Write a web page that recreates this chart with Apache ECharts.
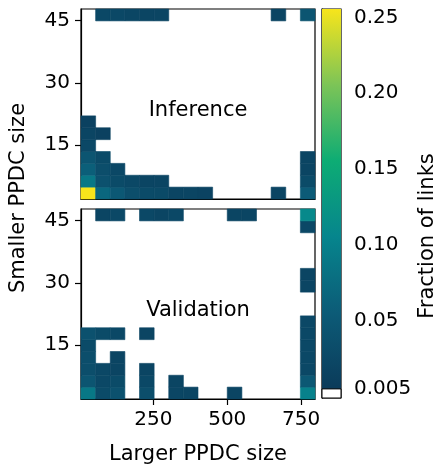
<!DOCTYPE html>
<html>
<head>
<meta charset="utf-8">
<script src="https://cdn.jsdelivr.net/npm/echarts@6/dist/echarts.min.js"></script>
<style>
  html, body { margin: 0; padding: 0; background: #fff; }
  #main { width: 443px; height: 470px; }
</style>
</head>
<body>
<div id="main"></div>
<script>
var dom = document.getElementById('main');
var myChart = echarts.init(dom);

// bins: 16 x 16 (larger size along x, smaller size along y)
var xMin = 5, xMax = 797;
var yMin = 2, yMax = 47.8;
var nBins = 16;
var xTicks = [250, 500, 750];
var yTicks = [15, 30, 45];
var cbarTicks = [0.005, 0.05, 0.10, 0.15, 0.20, 0.25];
var vMin = 0.005, vMax = 0.2555;
var cmap = ['#0b3b5a', '#0c5b77', '#06858d', '#0dac74', '#7cc457', '#f7e51b'];

// [column, row, fraction of links]
var inferenceCells = [
    [0, 0, 0.256], [1, 0, 0.07], [2, 0, 0.05], [3, 0, 0.035], [4, 0, 0.03], [5, 0, 0.028],
    [6, 0, 0.02], [7, 0, 0.02], [8, 0, 0.018], [13, 0, 0.02], [15, 0, 0.055],
    [0, 1, 0.09], [1, 1, 0.04], [2, 1, 0.03], [3, 1, 0.025], [4, 1, 0.02], [5, 1, 0.02], [15, 1, 0.03],
    [0, 2, 0.06], [1, 2, 0.035], [2, 2, 0.025], [15, 2, 0.02],
    [0, 3, 0.045], [1, 3, 0.03], [15, 3, 0.02],
    [0, 4, 0.025],
    [0, 5, 0.02], [1, 5, 0.015],
    [0, 6, 0.015],
    [1, 15, 0.025], [2, 15, 0.025], [3, 15, 0.022], [4, 15, 0.02], [5, 15, 0.02],
    [13, 15, 0.02], [15, 15, 0.045]
];

var validationCells = [
    [0, 0, 0.09], [1, 0, 0.03], [2, 0, 0.04], [4, 0, 0.035], [6, 0, 0.022], [7, 0, 0.02],
    [10, 0, 0.02], [15, 0, 0.1],
    [0, 1, 0.045], [1, 1, 0.025], [2, 1, 0.03], [4, 1, 0.025], [6, 1, 0.02], [15, 1, 0.05],
    [0, 2, 0.035], [1, 2, 0.025], [2, 2, 0.02], [4, 2, 0.02], [15, 2, 0.025],
    [0, 3, 0.035], [2, 3, 0.02], [15, 3, 0.025],
    [0, 4, 0.03], [15, 4, 0.025],
    [0, 5, 0.04], [1, 5, 0.03], [2, 5, 0.025], [4, 5, 0.02], [15, 5, 0.025],
    [15, 6, 0.025],
    [15, 9, 0.02], [15, 10, 0.02],
    [15, 14, 0.025],
    [1, 15, 0.02], [2, 15, 0.025], [4, 15, 0.025], [5, 15, 0.02], [6, 15, 0.025],
    [10, 15, 0.02], [11, 15, 0.02], [15, 15, 0.11]
];

var xEdges = [], yEdges = [];
for (var i = 0; i <= nBins; i++) {
    xEdges.push(xMin + (xMax - xMin) * i / nBins);
    yEdges.push(yMin + (yMax - yMin) * i / nBins);
}

var fontFamily = 'DejaVu Sans';

function renderCell(params, api) {
    var c = api.value(0), r = api.value(1);
    var p0 = api.coord([xEdges[c], yEdges[r + 1]]);
    var p1 = api.coord([xEdges[c + 1], yEdges[r]]);
    var color = api.visual('color');
    return {
        type: 'rect',
        shape: { x: p0[0], y: p0[1], width: p1[0] - p0[0], height: p1[1] - p0[1] },
        style: { fill: color, stroke: color, lineWidth: 0.6 }
    };
}

function renderBar(params, api) {
    var lo = api.value(0), hi = api.value(1);
    var bottom = api.coord([0, lo]);
    var top = api.coord([1, hi]);
    var under = api.coord([0, -0.001]);
    var stops = cmap.map(function (c, i) { return { offset: i / (cmap.length - 1), color: c }; });
    return {
        type: 'group',
        children: [
            {
                type: 'rect',
                shape: { x: bottom[0], y: top[1], width: top[0] - bottom[0], height: bottom[1] - top[1] },
                style: { fill: new echarts.graphic.LinearGradient(0, 1, 0, 0, stops) }
            },
            {
                type: 'rect',
                shape: { x: bottom[0], y: bottom[1], width: top[0] - bottom[0], height: under[1] - bottom[1] },
                style: { fill: '#fff', stroke: '#000', lineWidth: 1 }
            }
        ]
    };
}

function panelY(gridIndex) {
    return {
        type: 'value', gridIndex: gridIndex, min: yMin, max: yMax,
        splitLine: { show: false },
        axisLine: { show: true, lineStyle: { color: '#000', width: 1.2 } },
        axisTick: { show: true, inside: false, length: 6, customValues: yTicks, lineStyle: { color: '#000', width: 1.2 } },
        axisLabel: { customValues: yTicks, margin: 11, color: '#000', fontSize: 20, fontFamily: fontFamily }
    };
}

function label(text, x, y, rotated) {
    return {
        type: 'text', x: x, y: y, rotation: rotated ? Math.PI / 2 : 0,
        style: { text: text, fill: '#000', font: '21px "DejaVu Sans"', textAlign: 'center', textVerticalAlign: 'middle' }
    };
}

var option = {
    animation: false,
    backgroundColor: '#fff',
    grid: [
        { left: 81, top: 9, width: 234, height: 190, show: true, borderColor: '#000', borderWidth: 1.2, backgroundColor: '#fff' },
        { left: 81, top: 209, width: 234, height: 190, show: true, borderColor: '#000', borderWidth: 1.2, backgroundColor: '#fff' },
        { left: 322, top: 9, width: 19, height: 389, show: true, borderColor: '#000', borderWidth: 1.2 }
    ],
    xAxis: [
        {
            type: 'value', gridIndex: 0, min: xMin, max: xMax,
            splitLine: { show: false }, axisTick: { show: false }, axisLabel: { show: false },
            axisLine: { show: true, lineStyle: { color: '#000', width: 1.2 } }
        },
        {
            type: 'value', gridIndex: 1, min: xMin, max: xMax,
            splitLine: { show: false },
            axisLine: { show: true, lineStyle: { color: '#000', width: 1.2 } },
            axisTick: { show: true, length: 6, customValues: xTicks, lineStyle: { color: '#000', width: 1.2 } },
            axisLabel: { customValues: xTicks, margin: 11, color: '#000', fontSize: 20, fontFamily: fontFamily }
        },
        { type: 'value', gridIndex: 2, min: 0, max: 1, show: false }
    ],
    yAxis: [
        panelY(0),
        panelY(1),
        {
            type: 'value', gridIndex: 2, position: 'right', min: -0.001, max: vMax,
            splitLine: { show: false },
            axisLine: { show: true, lineStyle: { color: '#000', width: 1.2 } },
            axisTick: { show: true, length: 6, customValues: cbarTicks, lineStyle: { color: '#000', width: 1.2 } },
            axisLabel: {
                customValues: cbarTicks, margin: 13, color: '#000', fontSize: 20, fontFamily: fontFamily,
                formatter: function (v) { return v < 0.01 ? '0.005' : v.toFixed(2); }
            }
        }
    ],
    visualMap: {
        type: 'continuous', show: false, min: vMin, max: vMax, dimension: 2,
        seriesIndex: [0, 1], inRange: { color: cmap }
    },
    series: [
        { type: 'custom', name: 'Inference', xAxisIndex: 0, yAxisIndex: 0, renderItem: renderCell, data: inferenceCells, encode: { x: -1, y: -1 } },
        { type: 'custom', name: 'Validation', xAxisIndex: 1, yAxisIndex: 1, renderItem: renderCell, data: validationCells, encode: { x: -1, y: -1 } },
        { type: 'custom', name: 'colorbar', xAxisIndex: 2, yAxisIndex: 2, renderItem: renderBar, data: [[vMin, vMax]], encode: { x: -1, y: -1 } }
    ],
    graphic: [
        label('Inference', 198, 111),
        label('Validation', 198, 311),
        label('Larger PPDC size', 198, 455),
        label('Smaller PPDC size', 19, 198, true),
        label('Fraction of links', 428, 236, true)
    ]
};

if (option && typeof option === 'object') {
    myChart.setOption(option);
}
</script>
</body>
</html>
